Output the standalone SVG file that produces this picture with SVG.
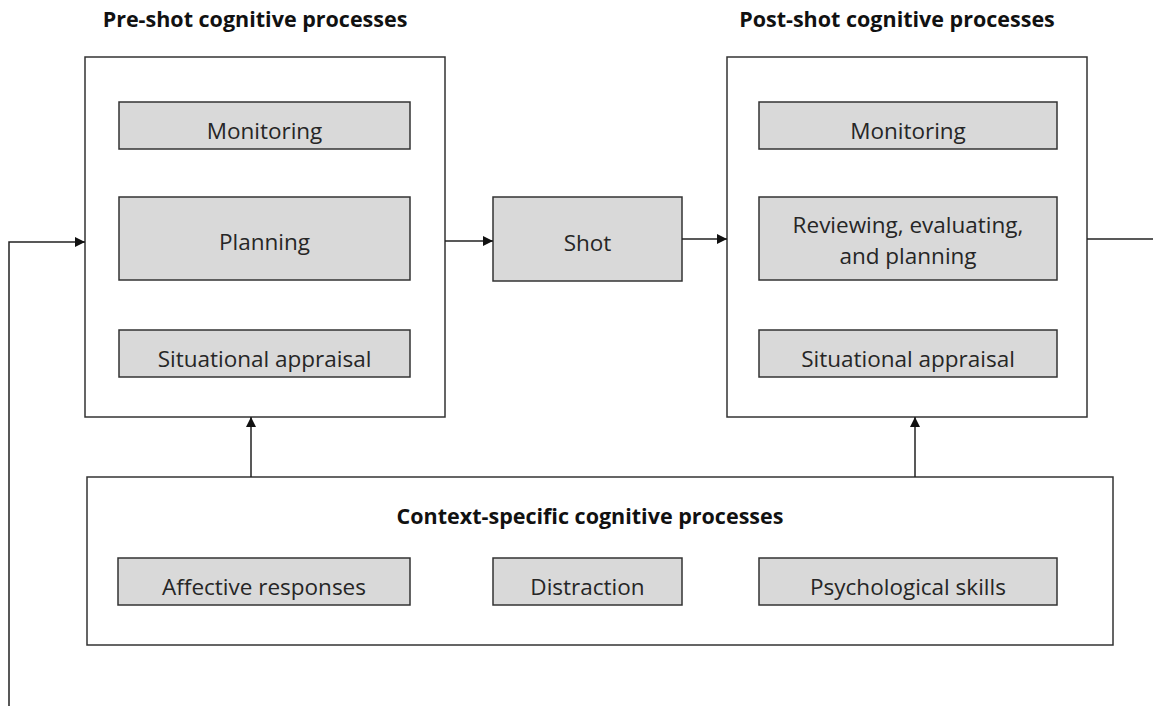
<svg xmlns="http://www.w3.org/2000/svg" width="1153" height="706" viewBox="0 0 1153 706">
<defs>
<style>
.frame{fill:#fff;stroke:#333;stroke-width:1.5}
.box{fill:#d9d9d9;stroke:#333;stroke-width:1.5}
.lbl{font-family:"Open Sans","Liberation Sans",sans-serif;font-size:22.5px;fill:#262626;text-anchor:middle}
.ttl{font-family:"Open Sans","Liberation Sans",sans-serif;font-size:21.5px;font-weight:bold;fill:#111;text-anchor:middle}
.ln{fill:none;stroke:#222;stroke-width:1.5}
</style>
<marker id="ah" viewBox="0 0 10 10" refX="10" refY="5" markerWidth="11" markerHeight="10" markerUnits="userSpaceOnUse" orient="auto">
<path d="M0,0 L10,5 L0,10 Z" fill="#111"/>
</marker>
</defs>
<rect width="1153" height="706" fill="#fff"/>

<g id="pre-shot">
<text class="ttl" x="255" y="27">Pre-shot cognitive processes</text>
<rect class="frame" x="85" y="57" width="360" height="360"/>
<g id="pre-monitoring"><rect class="box" x="119" y="102" width="291" height="47"/><text class="lbl" x="264.5" y="139">Monitoring</text></g>
<g id="pre-planning"><rect class="box" x="119" y="197" width="291" height="83"/><text class="lbl" x="264.5" y="250">Planning</text></g>
<g id="pre-appraisal"><rect class="box" x="119" y="330" width="291" height="47"/><text class="lbl" x="264.5" y="367">Situational appraisal</text></g>
</g>

<g id="shot"><rect class="box" x="493" y="197" width="189" height="84"/><text class="lbl" x="587.5" y="251">Shot</text></g>

<g id="post-shot">
<text class="ttl" x="897" y="27">Post-shot cognitive processes</text>
<rect class="frame" x="727" y="57" width="360" height="360"/>
<g id="post-monitoring"><rect class="box" x="759" y="102" width="298" height="47"/><text class="lbl" x="908" y="139">Monitoring</text></g>
<g id="post-reviewing"><rect class="box" x="759" y="197" width="298" height="83"/><text class="lbl" x="908" y="233">Reviewing, evaluating,</text><text class="lbl" x="908" y="264">and planning</text></g>
<g id="post-appraisal"><rect class="box" x="759" y="330" width="298" height="47"/><text class="lbl" x="908" y="367">Situational appraisal</text></g>
</g>

<g id="context">
<rect class="frame" x="87" y="477" width="1026" height="168"/>
<text class="ttl" x="590" y="524">Context-specific cognitive processes</text>
<g id="affective"><rect class="box" x="118" y="558" width="292" height="47"/><text class="lbl" x="264" y="595">Affective responses</text></g>
<g id="distraction"><rect class="box" x="493" y="558" width="189" height="47"/><text class="lbl" x="587.5" y="595">Distraction</text></g>
<g id="psych"><rect class="box" x="759" y="558" width="298" height="47"/><text class="lbl" x="908" y="595">Psychological skills</text></g>
</g>

<g id="connectors">
<line class="ln" x1="445" y1="241" x2="493" y2="241" marker-end="url(#ah)"/>
<line class="ln" x1="682" y1="239" x2="727" y2="239" marker-end="url(#ah)"/>
<line class="ln" x1="1087" y1="239" x2="1153" y2="239"/>
<polyline class="ln" points="9,706 9,242 85,242" marker-end="url(#ah)"/>
<line class="ln" x1="251" y1="477" x2="251" y2="417" marker-end="url(#ah)"/>
<line class="ln" x1="915" y1="477" x2="915" y2="417" marker-end="url(#ah)"/>
</g>
</svg>
